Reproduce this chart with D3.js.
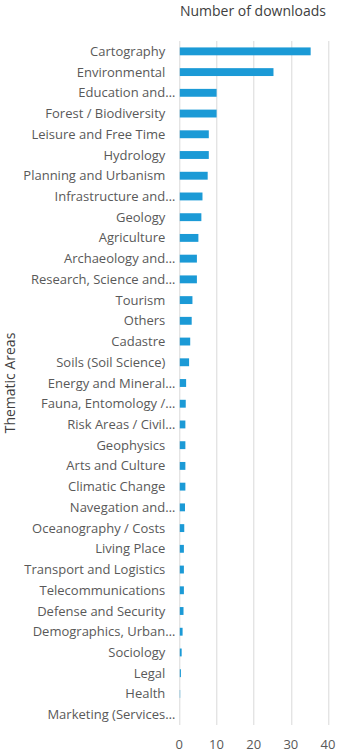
<!DOCTYPE html>
<html>
<head>
<meta charset="utf-8">
<script src="https://cdn.jsdelivr.net/npm/d3@7"></script>
<style>
  body { margin: 0; background: #fff; }
  text { font-family: "Open Sans", sans-serif; }
</style>
</head>
<body>
<svg width="339" height="753"></svg>
<script>
// thematic areas, top to bottom
var categories = [
  "Cartography", "Environmental", "Education and\u2026", "Forest / Biodiversity",
  "Leisure and Free Time", "Hydrology", "Planning and Urbanism", "Infrastructure and\u2026",
  "Geology", "Agriculture", "Archaeology and\u2026", "Research, Science and\u2026",
  "Tourism", "Others", "Cadastre", "Soils (Soil Science)",
  "Energy and Mineral\u2026", "Fauna, Entomology /\u2026", "Risk Areas / Civil\u2026", "Geophysics",
  "Arts and Culture", "Climatic Change", "Navegation and\u2026", "Oceanography / Costs",
  "Living Place", "Transport and Logistics", "Telecommunications", "Defense and Security",
  "Demographics, Urban\u2026", "Sociology", "Legal", "Health", "Marketing (Services\u2026"
];
var downloads = [
  35.2, 25.2, 9.9, 9.9,
  7.8, 7.8, 7.5, 6.1,
  5.8, 5.0, 4.6, 4.6,
  3.4, 3.2, 2.8, 2.5,
  1.7, 1.6, 1.5, 1.5,
  1.5, 1.5, 1.4, 1.2,
  1.1, 1.1, 1.1, 1.0,
  0.75, 0.5, 0.3, 0.1, 0
];
var xTicks = [0, 10, 20, 30, 40];

var data = categories.map(function(c, i) { return {name: c, value: downloads[i]}; });

var svg = d3.select("svg");
var margin = {top: 41, right: 11, bottom: 28, left: 179.3};
var width = +svg.attr("width") - margin.left - margin.right;
var height = +svg.attr("height") - margin.top - margin.bottom;

var x = d3.scaleLinear().domain([0, 40]).range([0, width]);
var y = d3.scaleBand().domain(categories).range([0, height]).paddingInner(0.62).paddingOuter(0.31);

var graph = svg.append("g")
  .attr("transform", "translate(" + margin.left + "," + margin.top + ")");

// gridlines
graph.selectAll(".grid")
  .data(xTicks)
  .enter().append("line")
  .attr("class", "grid")
  .attr("x1", function(d) { return Math.round(x(d)) + 0.5; })
  .attr("x2", function(d) { return Math.round(x(d)) + 0.5; })
  .attr("y1", 0)
  .attr("y2", height)
  .attr("stroke", "#d9d9d9")
  .attr("stroke-width", 1);

// x tick labels
graph.selectAll(".xlab")
  .data(xTicks)
  .enter().append("text")
  .attr("class", "xlab")
  .attr("x", function(d) { return x(d); })
  .attr("y", height + 24)
  .attr("text-anchor", "middle")
  .attr("fill", "#595959")
  .style("font-size", "13px")
  .text(function(d) { return d; });

// category labels (truncated ones hang a bit further right, like excel)
graph.selectAll(".ylab")
  .data(data)
  .enter().append("text")
  .attr("class", "ylab")
  .attr("x", function(d) { return /\u2026$/.test(d.name) ? -4 : -14; })
  .attr("y", function(d) { return y(d.name) + y.bandwidth() / 2; })
  .attr("dy", "0.35em")
  .attr("text-anchor", "end")
  .attr("fill", "#595959")
  .style("font-size", "13px")
  .text(function(d) { return d.name; });

graph.selectAll(".bar")
  .data(data)
  .enter().append("rect")
  .attr("class", "bar")
  .attr("x", x(0) + 0.5)
  .attr("y", function(d) { return y(d.name); })
  .attr("width", function(d) { return Math.max(0, x(d.value) - x(0)); })
  .attr("height", y.bandwidth())
  .attr("fill", "#1b9ad6");

// titles
svg.append("text")
  .attr("x", 253)
  .attr("y", 16)
  .attr("text-anchor", "middle")
  .attr("fill", "#404040")
  .style("font-size", "14px")
  .text("Number of downloads");

svg.append("text")
  .attr("transform", "translate(15," + (margin.top + height / 2) + ") rotate(-90)")
  .attr("text-anchor", "middle")
  .attr("fill", "#404040")
  .style("font-size", "14px")
  .text("Thematic Areas");
</script>
</body>
</html>
